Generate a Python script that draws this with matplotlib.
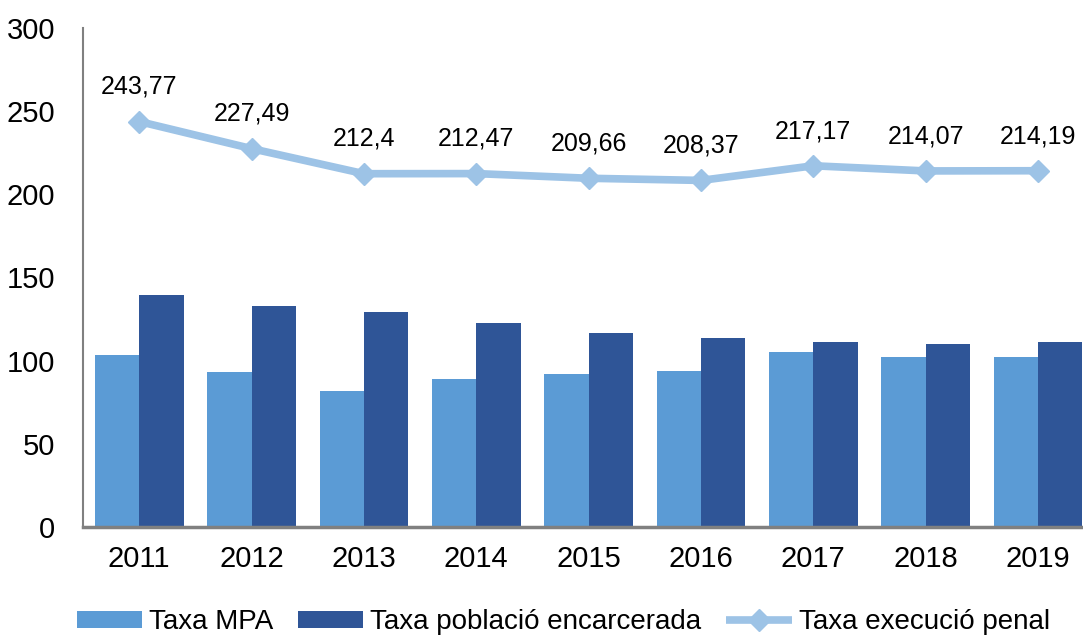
import numpy as np
import matplotlib.pyplot as plt

plt.rcParams['font.family'] = ['Liberation Sans', 'DejaVu Sans']

# data
years = ["2011", "2012", "2013", "2014", "2015", "2016", "2017", "2018", "2019"]
taxa_mpa = [103.6, 93.2, 81.7, 89.2, 92.0, 94.0, 105.4, 102.4, 102.4]
taxa_poblacio = [139.6, 133.0, 129.1, 122.5, 116.7, 113.9, 111.0, 110.1, 111.0]
taxa_execucio = [243.77, 227.49, 212.4, 212.47, 209.66, 208.37, 217.17, 214.07, 214.19]
execucio_labels = ["243,77", "227,49", "212,4", "212,47", "209,66", "208,37", "217,17", "214,07", "214,19"]

c_mpa = "#5B9BD5"
c_pob = "#2F5597"
c_exe = "#9DC3E6"

fig = plt.figure(figsize=(10.83, 6.35), dpi=100)
ax = fig.add_axes([83 / 1083, 108 / 635, 1000 / 1083, 499 / 635])

x = np.arange(len(years))
w = 0.395

b1 = ax.bar(x - w / 2, taxa_mpa, width=w, color=c_mpa, label="Taxa MPA", zorder=2)
b2 = ax.bar(x + w / 2, taxa_poblacio, width=w, color=c_pob, label="Taxa població encarcerada", zorder=2)
l1, = ax.plot(x, taxa_execucio, color=c_exe, lw=5.5, marker="D", ms=11,
              label="Taxa execució penal", zorder=3, solid_capstyle="butt")

for xi, yi, lab in zip(x, taxa_execucio, execucio_labels):
    ax.annotate(lab, (xi, yi), xytext=(0, 25), textcoords="offset points",
                ha="center", va="center", fontsize=18, color="black")

ax.set_xlim(-0.5, 8.4)
ax.set_ylim(0, 300)
ax.set_yticks(range(0, 301, 50))
ax.set_xticks(x)
ax.set_xticklabels(years)

for s in ["top", "right"]:
    ax.spines[s].set_visible(False)
for s in ["left", "bottom"]:
    ax.spines[s].set_color("#808080")
ax.spines["left"].set_linewidth(1.5)
ax.spines["bottom"].set_linewidth(2.5)

ax.tick_params(axis="y", length=0, labelsize=21, pad=20)
ax.tick_params(axis="x", length=0, labelsize=21, pad=13)

fig.legend([b1, b2, l1], ["Taxa MPA", "Taxa població encarcerada", "Taxa execució penal"],
           loc="center", bbox_to_anchor=(0.52, 13 / 635), ncol=3,
           fontsize=20, frameon=False, handlelength=2.35, handleheight=0.55,
           handletextpad=0.25, columnspacing=0.9, borderaxespad=0, borderpad=0)

fig.savefig("out.png", dpi=100)
